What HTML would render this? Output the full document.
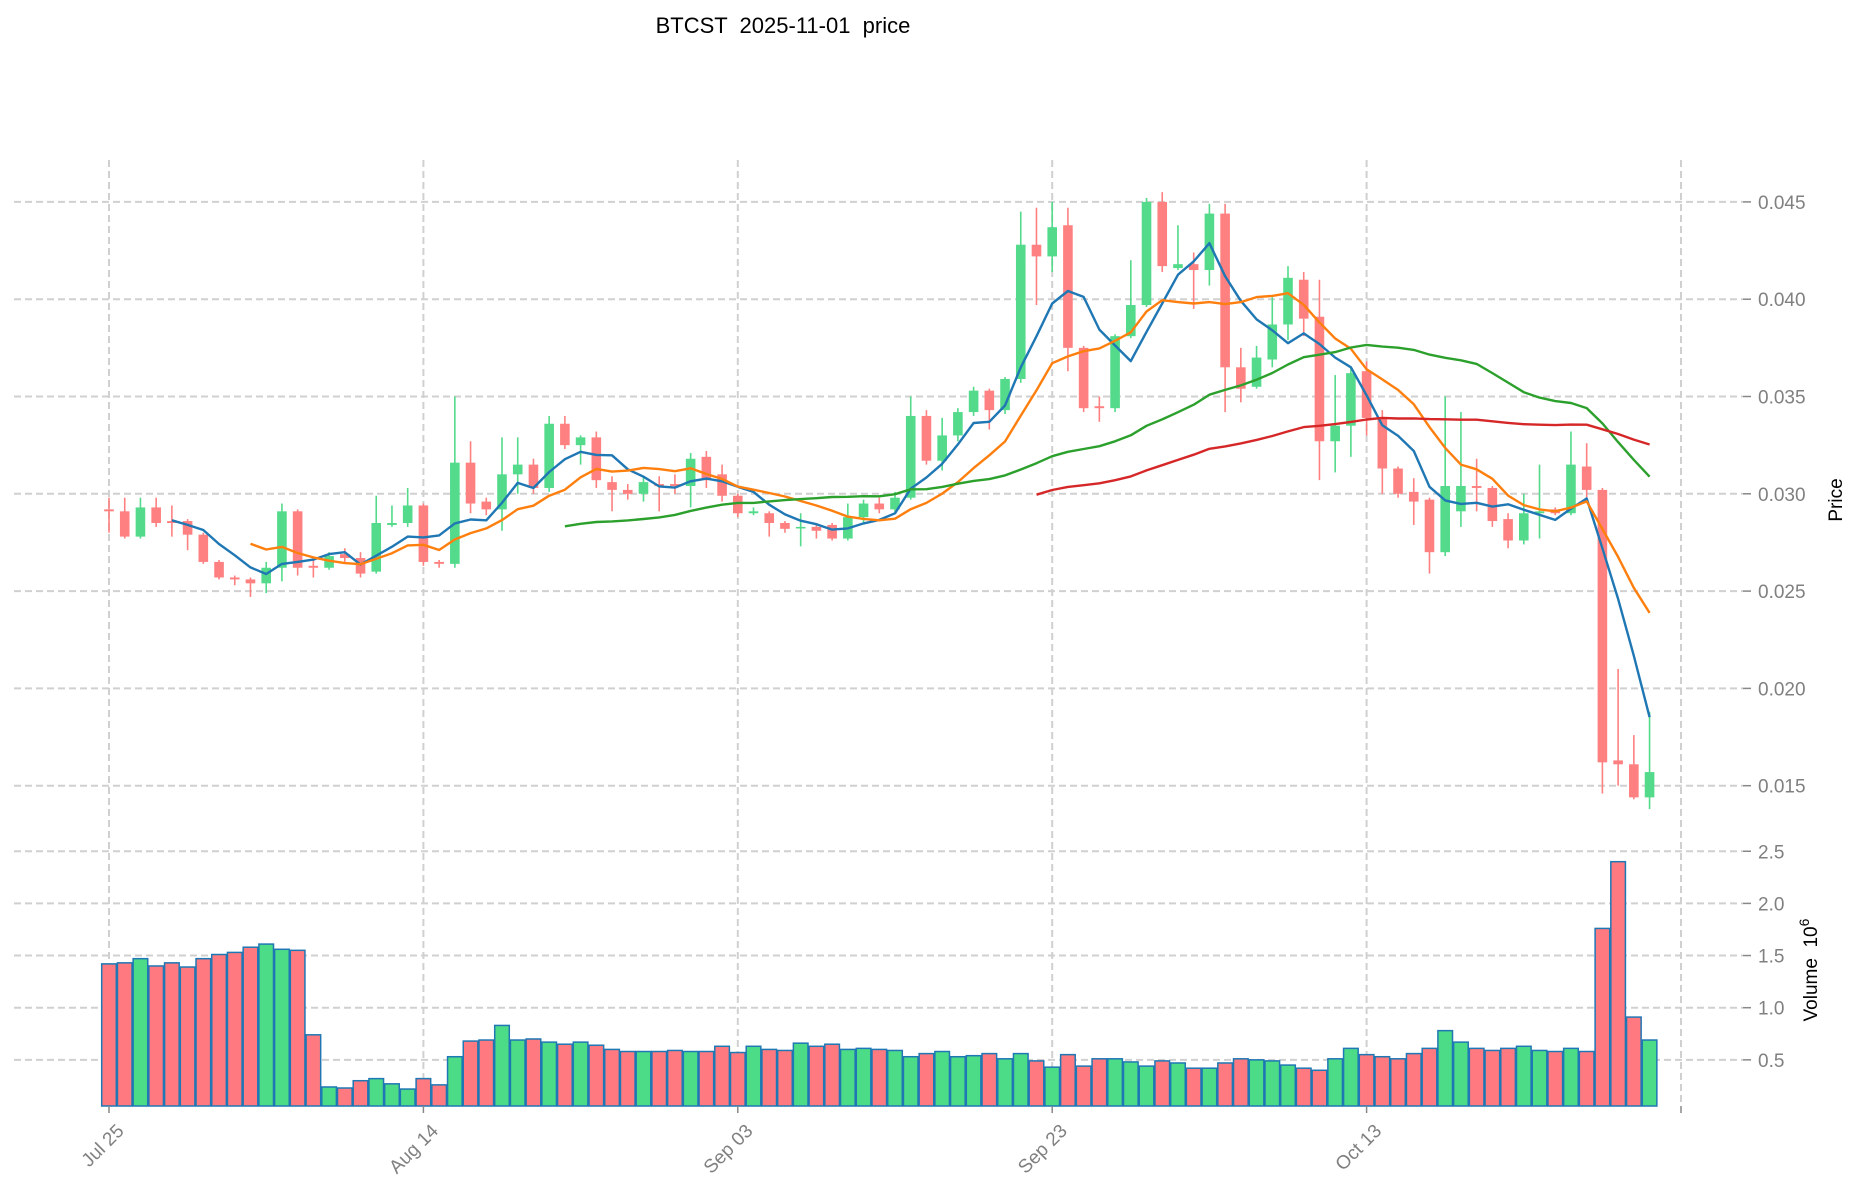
<!DOCTYPE html>
<html><head><meta charset="utf-8"><style>
html,body{margin:0;padding:0;background:#fff;}
svg{display:block;font-family:"Liberation Sans","DejaVu Sans",sans-serif;}
</style></head><body>
<svg id="chart" width="1860" height="1202" viewBox="0 0 1860 1202" xmlns="http://www.w3.org/2000/svg">
<text x="783" y="33" font-size="22" text-anchor="middle" fill="#000" style="white-space:pre" xml:space="preserve">BTCST  2025-11-01  price</text>
<g id="grid"></g>
<g id="volume"></g>
<g id="candles"></g>
<g id="mas"></g>
<g id="axes"></g>
<text transform="translate(1842,500) rotate(-90)" font-size="19" text-anchor="middle" fill="#000">Price</text>
<text transform="translate(1817,970) rotate(-90)" font-size="19" text-anchor="middle" fill="#000" style="white-space:pre" xml:space="preserve">Volume  10<tspan dy="-8" font-size="14">6</tspan></text>
</svg>
<script>
const dates = ["Jul 25","Aug 14","Sep 03","Sep 23","Oct 13",""];
const dateIdx = [0,20,40,60,80,100];
const opens  = [.0292,.0291,.0278,.0293,.0286,.0286,.0279,.0265,.0257,.0256,.0254,.0262,.0291,.0263,.0262,.0269,.0267,.0260,.0284,.0285,.0294,.0265,.0264,.0316,.0296,.0292,.0310,.0315,.0303,.0336,.0325,.0329,.0306,.0302,.0300,.0305,.0305,.0304,.0319,.0310,.0299,.0290,.0290,.0285,.0283,.0283,.0284,.0277,.0288,.0295,.0292,.0298,.0340,.0317,.0330,.0342,.0353,.0343,.0359,.0428,.0422,.0438,.0375,.0345,.0344,.0381,.0397,.0450,.0416,.0418,.0415,.0444,.0365,.0355,.0369,.0387,.0410,.0391,.0327,.0335,.0363,.0339,.0313,.0301,.0297,.0270,.0291,.0304,.0303,.0287,.0276,.0290,.0292,.0290,.0314,.0302,.0163,.0161,.0144];
const highs  = [.0298,.0298,.0298,.0298,.0294,.0287,.0280,.0266,.0258,.0257,.0265,.0295,.0292,.0266,.0270,.0272,.0270,.0299,.0294,.0303,.0295,.0266,.0350,.0327,.0298,.0329,.0329,.0318,.0340,.0340,.0330,.0332,.0309,.0305,.0309,.0309,.0310,.0321,.0322,.0315,.0300,.0293,.0291,.0286,.0290,.0285,.0285,.0295,.0297,.0298,.0301,.0350,.0343,.0339,.0344,.0355,.0354,.0360,.0445,.0447,.0450,.0447,.0376,.0350,.0382,.0420,.0452,.0455,.0438,.0424,.0449,.0449,.0375,.0376,.0401,.0417,.0414,.0410,.0361,.0365,.0368,.0343,.0314,.0308,.0298,.0350,.0342,.0318,.0304,.0290,.0300,.0315,.0293,.0332,.0326,.0303,.0210,.0176,.0188];
const lows   = [.0280,.0277,.0277,.0283,.0278,.0271,.0264,.0256,.0253,.0247,.0249,.0255,.0258,.0257,.0261,.0265,.0257,.0259,.0283,.0283,.0263,.0262,.0262,.0290,.0289,.0281,.0300,.0300,.0301,.0323,.0315,.0303,.0291,.0297,.0296,.0291,.0300,.0293,.0303,.0296,.0288,.0289,.0278,.0280,.0273,.0277,.0276,.0276,.0285,.0290,.0290,.0297,.0315,.0312,.0327,.0340,.0333,.0341,.0357,.0397,.0414,.0363,.0342,.0337,.0342,.0380,.0396,.0414,.0415,.0395,.0407,.0342,.0347,.0354,.0365,.0379,.0381,.0307,.0311,.0319,.0330,.0300,.0298,.0284,.0259,.0268,.0283,.0291,.0283,.0272,.0274,.0277,.0289,.0289,.0298,.0146,.0150,.0143,.0138];
const closes = [.0291,.0278,.0293,.0285,.0285,.0279,.0265,.0257,.0256,.0254,.0262,.0291,.0262,.0262,.0268,.0267,.0259,.0285,.0285,.0294,.0265,.0264,.0316,.0295,.0292,.0310,.0315,.0303,.0336,.0325,.0329,.0307,.0302,.0300,.0306,.0304,.0304,.0318,.0307,.0299,.0290,.0291,.0285,.0282,.0283,.0281,.0277,.0288,.0295,.0292,.0298,.0340,.0317,.0330,.0342,.0353,.0343,.0359,.0428,.0422,.0437,.0375,.0344,.0344,.0381,.0397,.0450,.0417,.0418,.0415,.0444,.0365,.0354,.0370,.0387,.0411,.0390,.0327,.0335,.0362,.0339,.0313,.0300,.0296,.0270,.0304,.0304,.0303,.0286,.0276,.0290,.0291,.0290,.0315,.0302,.0162,.0161,.0144,.0157];
const volumes = [1.42,1.43,1.47,1.40,1.43,1.39,1.47,1.51,1.53,1.58,1.61,1.56,1.55,0.74,0.24,0.23,0.30,0.32,0.27,0.22,0.32,0.26,0.53,0.68,0.69,0.83,0.69,0.70,0.67,0.65,0.67,0.64,0.60,0.58,0.58,0.58,0.59,0.58,0.58,0.63,0.57,0.63,0.60,0.59,0.66,0.63,0.65,0.60,0.61,0.60,0.59,0.53,0.56,0.58,0.53,0.54,0.56,0.51,0.56,0.49,0.43,0.55,0.44,0.51,0.51,0.48,0.44,0.49,0.47,0.42,0.42,0.47,0.51,0.50,0.49,0.45,0.42,0.40,0.51,0.61,0.55,0.53,0.51,0.56,0.61,0.78,0.67,0.61,0.59,0.61,0.63,0.59,0.58,0.61,0.58,1.76,2.40,0.91,0.69];
const priceTicks = [0.015,0.020,0.025,0.030,0.035,0.040,0.045];
const volTicks = [0.5,1.0,1.5,2.0,2.5];
const maWindows = [5,10,30,60];
const maColors = ["#1f77b4","#ff7f0e","#2ca02c","#d62728"];

const NS="http://www.w3.org/2000/svg";
const X0=109, DX=15.72;
const xOf=i=>X0+i*DX;
const yP=p=>785.7-(p-0.015)/0.005*97.3;
const yV=v=>1112-v*104.3;
const GREEN="#53da8b", RED="#ff8080";
function mk(tag,parent,attrs){const e=document.createElementNS(NS,tag);for(const k in attrs)e.setAttribute(k,attrs[k]);parent.appendChild(e);return e;}
const grid=document.getElementById('grid'), axes=document.getElementById('axes');
priceTicks.forEach(t=>{
  const y=yP(t);
  const l=mk('line',grid,{x1:14,x2:1743,y1:y,y2:y,stroke:'#d0d0d0','stroke-width':2,'stroke-dasharray':'7,4'});
  
  
  mk('line',axes,{x1:1743,x2:1751,y1:y,y2:y,stroke:'#888','stroke-width':1.5});
  const tx=mk('text',axes,{x:1758,y:y+7,'font-size':19,fill:'#808080'});
  tx.textContent=t.toFixed(3);
  
  
});
volTicks.forEach(t=>{
  const y=yV(t);
  const l=mk('line',grid,{x1:14,x2:1743,y1:y,y2:y,stroke:'#d0d0d0','stroke-width':2,'stroke-dasharray':'7,4'});
  
  
  mk('line',axes,{x1:1743,x2:1751,y1:y,y2:y,stroke:'#888','stroke-width':1.5});
  const tx=mk('text',axes,{x:1758,y:y+7,'font-size':19,fill:'#808080'});
  tx.textContent=t.toFixed(1);
  
  
});
dateIdx.forEach((d,k)=>{
  const x=xOf(d);
  const l=mk('line',grid,{x1:x,x2:x,y1:160,y2:1106,stroke:'#d0d0d0','stroke-width':2,'stroke-dasharray':'7,4'});
  
  
  mk('line',axes,{x1:x,x2:x,y1:1106,y2:1113,stroke:'#888','stroke-width':1.5});
  if(dates[k]){
    const tx=mk('text',axes,{transform:`translate(${x+16},${1132}) rotate(-45)`,'font-size':19,fill:'#808080','text-anchor':'end'});
    tx.textContent=dates[k];
    
    
  }
});
const vg=document.getElementById('volume');
volumes.forEach((v,i)=>{
  const up=closes[i]>=opens[i];
  const y=Math.max(yV(v),840);
  const r=mk('rect',vg,{x:xOf(i)-7.3,y:y,width:14.6,height:1106-y,fill:up?'#4cdc88':'#ff7a80',stroke:'#1f77b4','stroke-width':1.5});
  
  
});
const cg=document.getElementById('candles');
opens.forEach((o,i)=>{
  const c=closes[i], up=c>=o, col=up?GREEN:RED, x=xOf(i);
  const w=mk('line',cg,{x1:x,x2:x,y1:yP(highs[i]),y2:yP(lows[i]),stroke:col,'stroke-width':1.6});
  
  
  const top=yP(Math.max(o,c)), bot=yP(Math.min(o,c));
  const b=mk('rect',cg,{x:x-4.8,y:top,width:9.6,height:Math.max(bot-top,1.6),fill:col});
  
  
});
const mg=document.getElementById('mas');
maWindows.forEach((w,k)=>{
  let pts=[];
  for(let i=w-1;i<closes.length;i++){
    let s=0;for(let j=i-w+1;j<=i;j++)s+=closes[j];
    pts.push(xOf(i).toFixed(1)+','+yP(s/w).toFixed(1));
  }
  const p=mk('polyline',mg,{points:pts.join(' '),fill:'none',stroke:maColors[k],'stroke-width':2.4,'stroke-linejoin':'round'});
  
  
});
</script>
</body></html>
